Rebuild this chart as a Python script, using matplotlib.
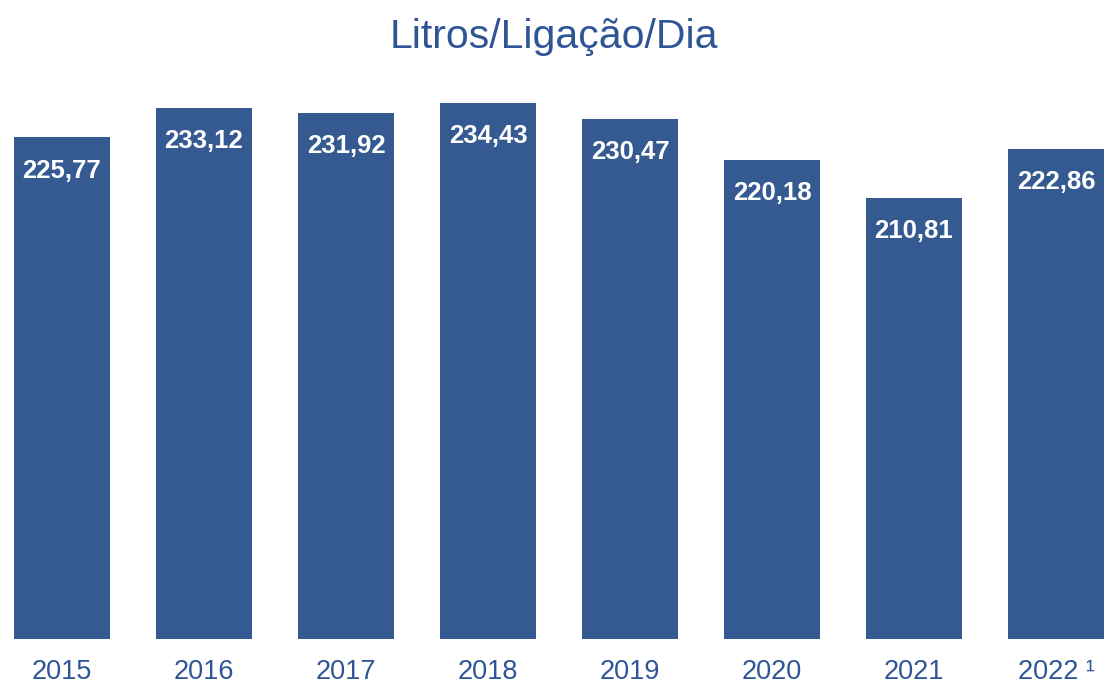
import matplotlib
matplotlib.use("Agg")
import matplotlib.pyplot as plt

years = ["2015", "2016", "2017", "2018", "2019", "2020", "2021", "2022 \u00b9"]
values = [225.77, 233.12, 231.92, 234.43, 230.47, 220.18, 210.81, 222.86]
labels = ["225,77", "233,12", "231,92", "234,43", "230,47", "220,18", "210,81", "222,86"]

BAR = "#355A91"
TXT = "#2F5597"

plt.rcParams['font.family'] = ['Liberation Sans', 'DejaVu Sans']

fig = plt.figure(figsize=(11.07, 6.85), dpi=100)
ax = fig.add_axes([0, 46/685, 1, (639-80)/685])
x = list(range(len(years)))
bars = ax.bar(x, values, width=0.683, color=BAR)
ax.set_xlim(-62/142, (1107-62)/142)
ax.set_ylim(101, 101 + 559/4.02)

for xi, v, lab in zip(x, values, labels):
    ax.annotate(lab, (xi, v), xytext=(0, -24), textcoords="offset points",
                ha="center", va="center", color="white", fontsize=18.5, fontweight="bold")

for xi, y in zip(x, years):
    ax.annotate(y, (xi, 0), xycoords=("data", "axes fraction"), xytext=(0, -23.5),
                textcoords="offset points", ha="center", va="center", color=TXT, fontsize=19.5)

for s in ax.spines.values():
    s.set_visible(False)
ax.set_xticks([])
ax.set_yticks([])

fig.text(0.5, 1 - 37/685, "Litros/Ligação/Dia", ha="center", va="center", color=TXT, fontsize=29.5)

fig.savefig("out.png", dpi=100)
